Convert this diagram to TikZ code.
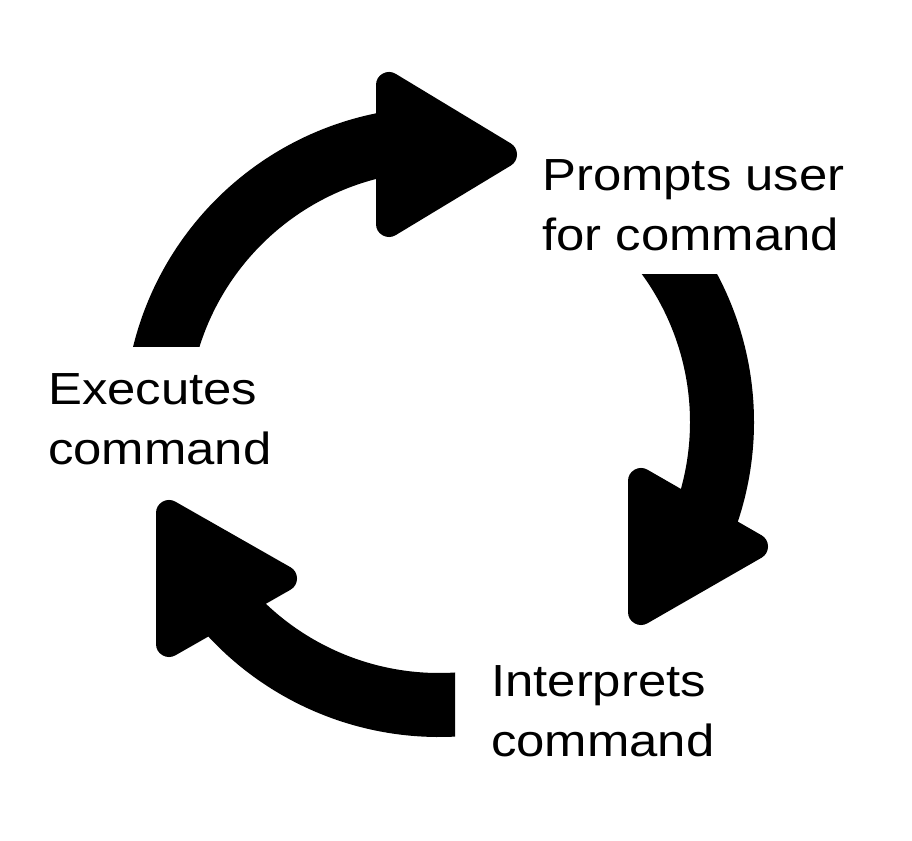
\documentclass[tikz,border=0pt]{standalone}
\usepackage{fontspec}
\newfontfamily\labfont{Liberation Sans}[FakeStretch=1.13]
\begin{document}
\begin{tikzpicture}[x=1pt,y=1pt,
  band/.style={line width=64pt, draw=black},
  head/.style={fill=black, draw=black, line width=26pt, line join=round},
  lab/.style={anchor=base west, inner sep=0pt, font=\labfont\fontsize{45}{60}\selectfont}]
\useasboundingbox (0,0) rectangle (912,840);
\coordinate (c) at (439,418);
% top arc
\begin{scope}
  \clip (0,493) rectangle (376,840);
  \draw[band] (c) ++(175:283) arc[start angle=175, end angle=95, radius=283];
\end{scope}
% right arc
\begin{scope}
  \clip (0,0) rectangle (912,565);
  \draw[band] (c) ++(45:283) arc[start angle=45, end angle=-24, radius=283];
\end{scope}
% bottom arc
\begin{scope}
  \clip (0,0) rectangle (455,840);
  \draw[band] (c) ++(215:283) arc[start angle=215, end angle=285, radius=283];
\end{scope}
% heads
\filldraw[head] (389,755) -- (389,616) -- (504,685.5) -- cycle;
\filldraw[head] (641,359) -- (641,228) -- (755,293.5) -- cycle;
\filldraw[head] (169,327) -- (169,196) -- (284,261.5) -- cycle;
% labels
\node[lab] (prompt) at (542,649) {\begin{tabular}[t]{@{}l@{}}Prompts user\\for command\end{tabular}};
\node[lab] (exec) at (48,435) {\begin{tabular}[t]{@{}l@{}}Executes\\command\end{tabular}};
\node[lab] (interp) at (491,143) {\begin{tabular}[t]{@{}l@{}}Interprets\\command\end{tabular}};
\end{tikzpicture}
\end{document}
